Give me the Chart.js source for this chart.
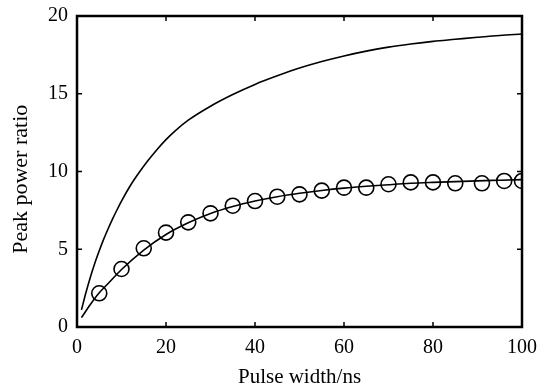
<!DOCTYPE html>
<html>
<head>
<meta charset="utf-8">
<script src="https://cdn.jsdelivr.net/npm/chart.js@4.4.1/dist/chart.umd.min.js"></script>
<style>
    html, body { margin: 0; padding: 0; background: #fff; }
    #ratioChart { display: block; }
</style>
</head>
<body>
<canvas id="ratioChart" width="537" height="391"></canvas>
<script>
// pulse width (ns) for the upper curve
const upperX = [1, 2, 3, 4, 5, 6, 7, 8, 9, 10, 12, 14, 16, 18, 20, 22, 25, 30, 35, 40, 45, 50, 55, 60, 65, 70, 75, 80, 85, 90, 95, 100];
const upperY = [1.1, 2.2, 3.2, 4.1, 4.9, 5.65, 6.32, 6.95, 7.54, 8.1, 9.1, 9.95, 10.72, 11.42, 12.05, 12.6, 13.3, 14.2, 14.95, 15.6, 16.15, 16.65, 17.07, 17.43, 17.74, 18.0, 18.2, 18.37, 18.5, 18.63, 18.75, 18.84];

// fitted line through the measured points
const fitX = [1, 3, 5, 7, 10, 15, 20, 25, 30, 35, 40, 45, 50, 55, 60, 65, 70, 75, 80, 85, 90, 95, 100];
const fitY = [0.6, 1.45, 2.2, 2.8, 3.7, 4.95, 5.95, 6.7, 7.3, 7.75, 8.1, 8.38, 8.6, 8.78, 8.93, 9.05, 9.15, 9.24, 9.3, 9.35, 9.4, 9.44, 9.48];

// measured points (circles)
const measuredX = [5, 10, 15, 20, 25, 30, 35, 40, 45, 50, 55, 60, 65, 70, 75, 80, 85, 91, 96, 100];
const measuredY = [2.17, 3.73, 5.06, 6.07, 6.73, 7.31, 7.8, 8.1, 8.38, 8.53, 8.77, 8.96, 8.96, 9.18, 9.3, 9.3, 9.24, 9.24, 9.39, 9.39];

const xTicks = [0, 20, 40, 60, 80, 100];
const yTicks = [0, 5, 10, 15, 20];
const yTitle = 'Peak power ratio';

const toPoints = (xs, ys) => xs.map((x, i) => ({ x: x, y: ys[i] }));

const serif = 'Liberation Serif';

// frame box + inward tick marks on all four sides, and the y title
const framePlugin = {
    id: 'frame',
    afterDraw(chart) {
        const { ctx, chartArea } = chart;
        const xs = chart.scales.x, ys = chart.scales.y;
        const len = 5;
        ctx.save();
        ctx.strokeStyle = '#000';
        ctx.lineWidth = 1.5;
        ctx.beginPath();
        xTicks.slice(1, -1).forEach(v => {
            const px = xs.getPixelForValue(v);
            ctx.moveTo(px, chartArea.bottom);
            ctx.lineTo(px, chartArea.bottom - len);
            ctx.moveTo(px, chartArea.top);
            ctx.lineTo(px, chartArea.top + len);
        });
        yTicks.slice(1, -1).forEach(v => {
            const py = ys.getPixelForValue(v);
            ctx.moveTo(chartArea.left, py);
            ctx.lineTo(chartArea.left + len, py);
            ctx.moveTo(chartArea.right, py);
            ctx.lineTo(chartArea.right - len, py);
        });
        ctx.stroke();
        ctx.lineWidth = 2.5;
        ctx.strokeRect(chartArea.left, chartArea.top, chartArea.right - chartArea.left, chartArea.bottom - chartArea.top);

        // y title sits a bit below the middle of the axis in the original
        ctx.translate(21, ys.getPixelForValue(9.5));
        ctx.rotate(-Math.PI / 2);
        ctx.fillStyle = '#000';
        ctx.font = '22px "Liberation Serif"';
        ctx.textAlign = 'center';
        ctx.textBaseline = 'middle';
        ctx.fillText(yTitle, 0, 0);
        ctx.restore();
    }
};

new Chart(document.getElementById('ratioChart').getContext('2d'), {
    type: 'scatter',
    data: {
        datasets: [
            {
                data: toPoints(upperX, upperY),
                showLine: true,
                borderColor: '#000',
                borderWidth: 1.6,
                pointRadius: 0,
                cubicInterpolationMode: 'monotone'
            },
            {
                data: toPoints(fitX, fitY),
                showLine: true,
                borderColor: '#000',
                borderWidth: 1.6,
                pointRadius: 0,
                cubicInterpolationMode: 'monotone'
            },
            {
                data: toPoints(measuredX, measuredY),
                showLine: false,
                pointStyle: 'circle',
                pointRadius: 7.5,
                pointBorderWidth: 1.6,
                pointBorderColor: '#000',
                pointBackgroundColor: 'rgba(0,0,0,0)'
            }
        ]
    },
    options: {
        responsive: false,
        animation: false,
        layout: { padding: { left: 0, right: 15, top: 16, bottom: 0 } },
        plugins: {
            legend: { display: false },
            tooltip: { enabled: false }
        },
        scales: {
            x: {
                type: 'linear',
                min: 0,
                max: 100,
                afterFit: (s) => {
                    s.height = 64;
                    s.paddingLeft = 0;
                    s.paddingRight = 0;
                },
                afterBuildTicks: (s) => { s.ticks = xTicks.map(v => ({ value: v })); },
                grid: { display: false, drawTicks: false },
                border: { display: false },
                ticks: {
                    color: '#000',
                    padding: 9,
                    maxRotation: 0,
                    font: { family: serif, size: 20 }
                },
                title: {
                    display: true,
                    text: 'Pulse width/ns',
                    color: '#000',
                    font: { family: serif, size: 21 },
                    padding: { bottom: 1 }
                }
            },
            y: {
                type: 'linear',
                min: 0,
                max: 20,
                afterFit: (s) => {
                    s.width = 77;
                    s.paddingTop = 0;
                    s.paddingBottom = 0;
                },
                afterBuildTicks: (s) => { s.ticks = yTicks.map(v => ({ value: v })); },
                grid: { display: false, drawTicks: false },
                border: { display: false },
                ticks: {
                    color: '#000',
                    padding: 9,
                    font: { family: serif, size: 20 }
                }
            }
        }
    },
    plugins: [framePlugin]
});
</script>
</body>
</html>
